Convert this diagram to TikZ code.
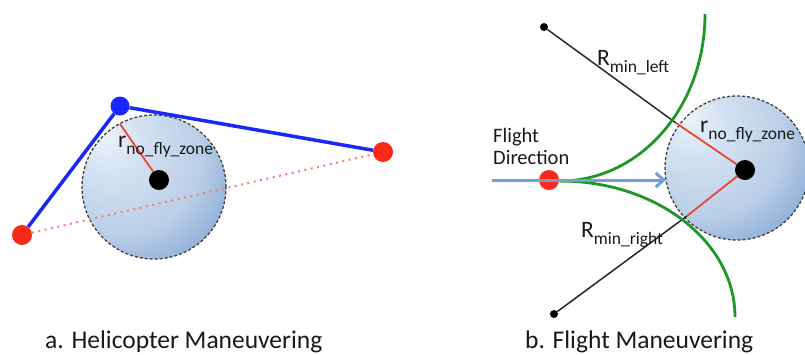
\documentclass[tikz,border=0pt]{standalone}
\usepackage{fontspec}
\setmainfont{Carlito}
\usepackage{xcolor}
\usetikzlibrary{arrows.meta, calc}

\definecolor{dotred}{RGB}{250,40,25}
\definecolor{pathblue}{RGB}{25,40,250}
\definecolor{arcgreen}{RGB}{30,150,40}
\definecolor{zonelight}{RGB}{236,243,250}
\definecolor{zonemid}{RGB}{186,206,232}
\definecolor{zonedark}{RGB}{88,136,195}
\definecolor{dirblue}{RGB}{115,160,210}
\definecolor{radred}{RGB}{236,70,50}

% light spot up-left, darker towards lower right edge
\pgfdeclareradialshading{zoneshade}{\pgfpoint{-18bp}{18bp}}{%
    color(0bp)=(zonelight); color(12bp)=(zonelight!50!zonemid);
    color(28bp)=(zonemid); color(52bp)=(zonedark); color(75bp)=(zonedark!85!black)}

\newcommand{\symlabel}[2]{{\fontsize{23.5}{23.5}\selectfont #1}\raisebox{-7pt}{\fontsize{17.5}{17.5}\selectfont #2}}

\begin{document}
\begin{tikzpicture}[
    x=1pt, y=-1pt,
    % Define styles for the nodes
    zone_node/.style={circle, draw=black!75, dash pattern=on 3pt off 2pt, line width=1.3pt, minimum size=144pt, inner sep=0pt,
        shading=zoneshade},
    wp_dot/.style={circle, fill=dotred, inner sep=0pt, minimum size=20pt},
    heli_dot/.style={circle, fill=pathblue, inner sep=0pt, minimum size=19pt},
    center_dot/.style={circle, fill=black, inner sep=0pt, minimum size=20pt},
    pivot_dot/.style={circle, fill=black, inner sep=0pt, minimum size=8pt},
    label_txt/.style={inner sep=0pt, anchor=base west, text=black!90},
    caption_txt/.style={inner sep=0pt, anchor=base west, font=\fontsize{25.5}{26}\selectfont, text=black!90},
    % Styles for lines
    path_line/.style={pathblue, line width=3.5pt},
    dot_line/.style={dotred!60, line width=2pt, dash pattern=on 2pt off 4.5pt},
    rad_line/.style={radred, line width=1.8pt},
    arm_line/.style={black!85, line width=1.5pt},
    turn_arc/.style={arcgreen, line width=2.8pt},
    dir_arrow/.style={dirblue, line width=3pt, -{Straight Barb[length=8pt, width=14pt]}}
]
    \useasboundingbox (0,0) rectangle (805,354);

    % =========================================================================
    % a. HELICOPTER MANEUVERING
    % =========================================================================
    \node (zoneA) [zone_node] at (154,187) {};

    \node (startA) [wp_dot] at (22,235) {};
    \node (goalA) [wp_dot] at (383,152) {};
    \draw [dot_line] (startA) -- (goalA);

    \node (ctrA) [center_dot] at (159,180) {};
    \coordinate (edgeA) at (120,124);
    \draw [rad_line] (ctrA) -- (edgeA);

    \node (heli) [heli_dot] at (120,106) {};
    \draw [path_line] (startA) -- (heli) -- (goalA);

    \node (rZoneA) [label_txt] at (118,147) {\symlabel{r}{no\_fly\_zone}};

    \node (capA) [caption_txt] at (45,348) {a. Helicopter Maneuvering};

    % =========================================================================
    % b. FLIGHT MANEUVERING
    % =========================================================================
    \node (zoneB) [zone_node] at (737,168) {};
    \node (ctrB) [center_dot] at (745,170) {};

    % Turn circles: pivot -> edge of zone (black), edge -> centre (red)
    \node (pivotL) [pivot_dot] at (544,27) {};
    \node (pivotR) [pivot_dot] at (554,314) {};
    \coordinate (hitL) at (676,123);
    \coordinate (hitR) at (687,216);
    \draw [arm_line] (pivotL) -- (hitL);
    \draw [rad_line] (hitL) -- (ctrB);
    \draw [arm_line] (pivotR) -- (hitR);
    \draw [rad_line] (hitR) -- (ctrB);

    % Minimum turn arcs
    \coordinate (turn) at (560,181);
    \coordinate (arcTop) at (705,14);
    \coordinate (arcBot) at (735,317);
    \draw [turn_arc] (turn) .. controls (640,181) and (705,107) .. (arcTop);
    \draw [turn_arc] (turn) .. controls (657,181) and (735,242) .. (arcBot);

    % Aircraft and its heading
    \node (plane) [wp_dot] at (549,180) {};
    \coordinate (dirTail) at (492,180);
    \coordinate (dirHead) at (666,180);
    \draw [dir_arrow] (dirTail) -- (dirHead);

    \node (flightDir) [inner sep=0pt, anchor=west, align=left, font=\fontsize{20.5}{22}\selectfont, text=black!90] at (493,146) {Flight\\Direction};

    \node (RLeft) [label_txt] at (597,65) {\symlabel{R}{min\_left}};
    \node (rZoneB) [label_txt] at (700,132) {\symlabel{r}{no\_fly\_zone}};
    \node (RRight) [label_txt] at (581,237) {\symlabel{R}{min\_right}};

    \node (capB) [caption_txt] at (525,348) {b. Flight Maneuvering};

\end{tikzpicture}
\end{document}
